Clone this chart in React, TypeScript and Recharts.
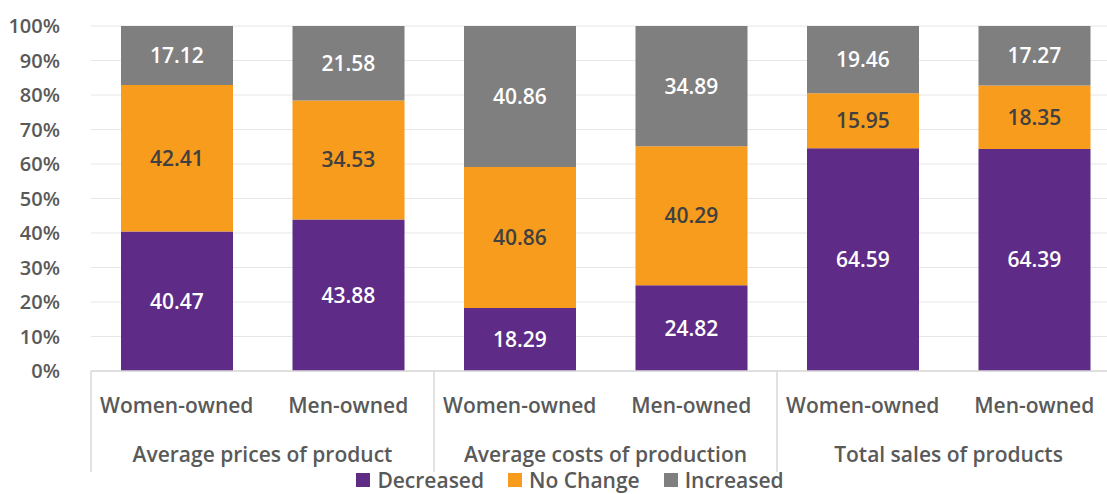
import React from 'react';
import { BarChart, Bar, XAxis, YAxis, CartesianGrid, LabelList } from 'recharts';

const owners = ['Women-owned', 'Men-owned', 'Women-owned', 'Men-owned', 'Women-owned', 'Men-owned'];
const groups = ['Average prices of product', 'Average costs of production', 'Total sales of products'];
const decreased = [40.47, 43.88, 18.29, 24.82, 64.59, 64.39];
const noChange = [42.41, 34.53, 40.86, 40.29, 15.95, 18.35];
const increased = [17.12, 21.58, 40.86, 34.89, 19.46, 17.27];
const yTicks = [0, 0.1, 0.2, 0.3, 0.4, 0.5, 0.6, 0.7, 0.8, 0.9, 1];

const data = owners.map((owner, i) => ({
  key: `${i}`,
  owner,
  group: groups[Math.floor(i / 2)],
  decreased: decreased[i],
  noChange: noChange[i],
  increased: increased[i],
}));

const series = [
  { key: 'decreased', name: 'Decreased', color: '#5e2b87', label: '#ffffff' },
  { key: 'noChange', name: 'No Change', color: '#f79c1d', label: '#404040' },
  { key: 'increased', name: 'Increased', color: '#7f7f7f', label: '#ffffff' },
];

const FONT = '"Open Sans", "Noto Sans", sans-serif';
const TEXT = '#595959';

const TwoLevelTick = (props: any) => {
  const { x, y, payload } = props;
  const idx = payload.index;
  const half = payload.offset ?? 85.7;
  const band = half * 2;
  const row = data[idx];
  const left = x - half;
  return (
    <g>
      <text x={x} y={y + 34} textAnchor="middle" fill={TEXT} fontSize={21} fontWeight={600} fontFamily={FONT}>
        {row.owner}
      </text>
      {idx % 2 === 0 && (
        <>
          <line x1={left} y1={y - 8} x2={left} y2={y + 93} stroke="#d9d9d9" strokeWidth={1.5} />
          <text x={left + band} y={y + 83} textAnchor="middle" fill={TEXT} fontSize={21} fontWeight={600} fontFamily={FONT}>
            {row.group}
          </text>
        </>
      )}
    </g>
  );
};

const fmt = (v: any) => Number(v).toFixed(2);

export default function App() {
  return (
    <div style={{ position: 'absolute', left: 0, top: 0, width: 1107, height: 494, overflow: 'hidden' }}>
      <BarChart
        width={1107}
        height={494}
        data={data}
        stackOffset="expand"
        barCategoryGap={30}
        margin={{ top: 26, right: -13, bottom: 0, left: 0 }}
      >
        <CartesianGrid vertical={false} stroke="#e6e6e6" />
        <XAxis
          dataKey="key"
          interval={0}
          tickLine={false}
          axisLine={{ stroke: '#d9d9d9', strokeWidth: 1.5 }}
          tick={<TwoLevelTick />}
          height={123}
        />
        <YAxis
          ticks={yTicks}
          domain={[0, 1]}
          interval={0}
          tickFormatter={(v: number) => `${Math.round(v * 100)}%`}
          axisLine={false}
          tickLine={false}
          width={91}
          tickMargin={25}
          tick={{ fill: TEXT, fontSize: 20, fontWeight: 600, fontFamily: FONT }}
        />
        {series.map((s) => (
          <Bar key={s.key} dataKey={s.key} name={s.name} stackId="a" fill={s.color} isAnimationActive={false}>
            <LabelList dataKey={s.key} position="center" formatter={fmt} fill={s.label} fontSize={21} fontWeight={600} fontFamily={FONT} />
          </Bar>
        ))}
      </BarChart>
      <div
        style={{
          position: 'absolute',
          top: 469,
          left: 0,
          width: 1107,
          display: 'flex',
          justifyContent: 'center',
          gap: 24,
          fontFamily: FONT,
          fontSize: 21,
          fontWeight: 600,
          color: TEXT,
          lineHeight: '22px',
          paddingLeft: 33,
          boxSizing: 'border-box',
        }}
      >
        {series.map((s) => (
          <div key={s.key} style={{ display: 'flex', alignItems: 'center' }}>
            <span style={{ display: 'inline-block', width: 14, height: 14, background: s.color, marginRight: 7 }} />
            <span>{s.name}</span>
          </div>
        ))}
      </div>
    </div>
  );
}
